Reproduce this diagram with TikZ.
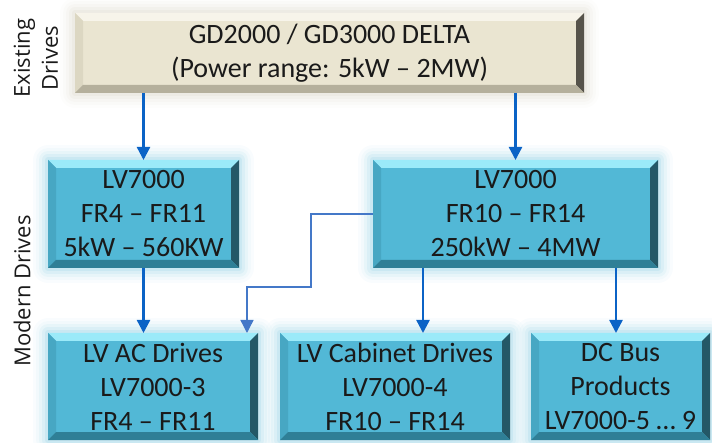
\documentclass[tikz,border=0pt]{standalone}
\usepackage{fontspec}
\setmainfont{Carlito}
\newfontfamily\sidefamily{Open Sans}
\usepackage{xcolor}
\usetikzlibrary{arrows.meta, positioning}

\definecolor{CyanFace}{HTML}{52B8D6}
\definecolor{CyanTop}{HTML}{9BEAF9}
\definecolor{CyanLeft}{HTML}{47A7C3}
\definecolor{CyanRight}{HTML}{245867}
\definecolor{CyanBottom}{HTML}{2F7F96}
\definecolor{CreamFace}{HTML}{EAE5D1}
\definecolor{CreamTop}{HTML}{F7F4EA}
\definecolor{CreamLeft}{HTML}{DCD7C2}
\definecolor{CreamRight}{HTML}{56534A}
\definecolor{CreamBottom}{HTML}{B5B09C}
\definecolor{GlowBlue}{HTML}{9CD4E6}
\definecolor{GlowCream}{HTML}{DDD9CC}
\definecolor{ArrowBlue}{HTML}{0B63C6}
\definecolor{LinkBlue}{HTML}{4478C8}
\definecolor{TextDark}{HTML}{1A1A1A}

\newcommand{\boxfont}{\fontsize{28}{34}\selectfont}
\newcommand{\sidefont}{\sidefamily\fontsize{22}{28}\selectfont}

% four bevel faces of a box
\newcommand{\bevelfaces}[4]{%
  \coordinate (bNW) at (path picture bounding box.north west);
  \coordinate (bNE) at (path picture bounding box.north east);
  \coordinate (bSW) at (path picture bounding box.south west);
  \coordinate (bSE) at (path picture bounding box.south east);
  \fill[#1] (bNW) -- (bNE) -- ([xshift=-8pt,yshift=-8pt]bNE) -- ([xshift=8pt,yshift=-8pt]bNW) -- cycle;
  \fill[#2] (bNW) -- ([xshift=8pt,yshift=-8pt]bNW) -- ([xshift=8pt,yshift=8pt]bSW) -- (bSW) -- cycle;
  \fill[#3] (bNE) -- (bSE) -- ([xshift=-8pt,yshift=8pt]bSE) -- ([xshift=-8pt,yshift=-8pt]bNE) -- cycle;
  \fill[#4] (bSW) -- (bSE) -- ([xshift=-8pt,yshift=8pt]bSE) -- ([xshift=8pt,yshift=8pt]bSW) -- cycle;
}

\begin{document}
\begin{tikzpicture}[
  x=1pt, y=-1pt,
  every node/.style={inner sep=0pt, outer sep=0pt},
  glow/.style={
    preaction={draw=#1, line width=30pt, opacity=0.06, line join=round},
    preaction={draw=#1, line width=24pt, opacity=0.08, line join=round},
    preaction={draw=#1, line width=18pt, opacity=0.12, line join=round},
    preaction={draw=#1, line width=12pt, opacity=0.18, line join=round},
    preaction={draw=#1, line width=6pt, opacity=0.25, line join=round}},
  drivebox/.style={fill=CyanFace, text=TextDark, font=\boxfont, align=center, minimum height=108pt,
    glow=GlowBlue,
    path picture={\bevelfaces{CyanTop}{CyanLeft}{CyanRight}{CyanBottom}}},
  legacybox/.style={fill=CreamFace, text=TextDark, font=\boxfont, align=center,
    glow=GlowCream,
    path picture={\bevelfaces{CreamTop}{CreamLeft}{CreamRight}{CreamBottom}}},
  sidelabel/.style={font=\sidefont, text=TextDark, align=center, rotate=90},
  flow/.style={-{Triangle[width=13pt, length=13pt]}, line width=2.4pt, ArrowBlue},
  link/.style={-{Triangle[width=13pt, length=13pt]}, line width=1.4pt, LinkBlue},
]
\useasboundingbox (0,0) rectangle (712,443);
\clip (0,0) rectangle (712,443);

% Drive families
\node[legacybox, minimum width=509pt, minimum height=80pt] (delta) at (329.5,53) {GD2000 / GD3000 DELTA\\(Power range: 5kW – 2MW)};
\node[drivebox, minimum width=191pt] (lvsmall) at (143.5,214) {LV7000\\FR4 – FR11\\5kW – 560KW};
\node[drivebox, minimum width=285pt] (lvlarge) at (515.5,214) {LV7000\\FR10 – FR14\\250kW – 4MW};

% Products
\node[drivebox, minimum width=210pt, minimum height=107pt] (acdrives) at (153,386.5) {LV AC Drives\\LV7000-3\\FR4 – FR11};
\node[drivebox, minimum width=230pt, minimum height=107pt, right=22pt of acdrives] (cabinet) {LV Cabinet Drives\\LV7000-4\\FR10 – FR14};
\node[drivebox, minimum width=179pt, minimum height=107pt, right=21pt of cabinet] (dcbus) {DC Bus\\Products\\LV7000-5 … 9};

% Side labels
\node[sidelabel] (existing) at (36,58) {Existing\\Drives};
\node[sidelabel] (modern) at (22,291) {Modern Drives};

% Arrows
\coordinate (acin) at ([xshift=94pt]acdrives.north);
\coordinate (cabin) at ([xshift=28pt]cabinet.north);
\coordinate (dcin) at ([xshift=-4.5pt]dcbus.north);
\coordinate (bend) at (311,287);
\draw[flow] (lvsmall.north |- delta.south) -- (lvsmall.north);
\draw[flow] (lvlarge.north |- delta.south) -- (lvlarge.north);
\draw[flow] (lvsmall.south) -- (lvsmall.south |- acdrives.north);
\draw[flow] (lvlarge.south -| cabin) -- (cabin);
\draw[flow] (lvlarge.south -| dcin) -- (dcin);
\draw[link] (lvlarge.west) -| (bend) -| (acin);

\end{tikzpicture}
\end{document}
